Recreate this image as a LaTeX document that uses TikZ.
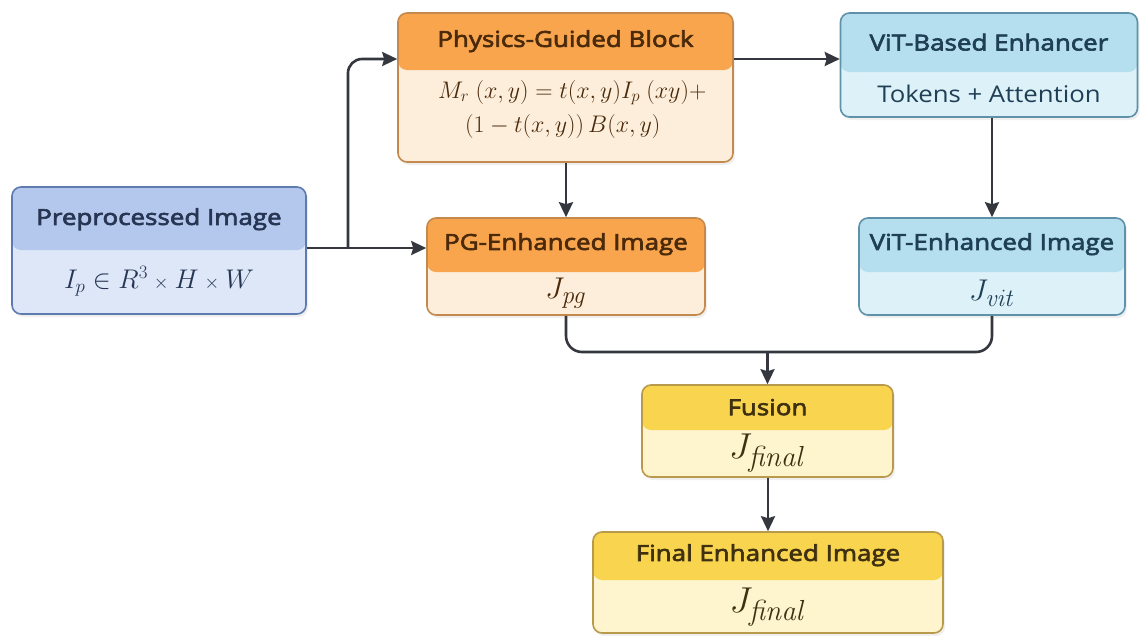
\RequirePackage{fix-cm}
\documentclass[tikz,border=0pt]{standalone}
\usepackage[no-math]{fontspec}
\setmainfont{Open Sans}
\newfontfamily\hdrfont{Open Sans}[FakeStretch=1.12]
\newfontfamily\hdrbfont{Open Sans}[FakeStretch=1.18,FakeBold=3]
\usetikzlibrary{arrows.meta,shadows}
\definecolor{bluehdr}{HTML}{B4C8EE}
\definecolor{bluebody}{HTML}{DDE7F8}
\definecolor{blueline}{HTML}{5E7BB0}
\definecolor{bluetxt}{HTML}{263552}
\definecolor{orghdr}{HTML}{F8A54E}
\definecolor{orgbody}{HTML}{FDEEDC}
\definecolor{orgline}{HTML}{C48A4D}
\definecolor{orgtxt}{HTML}{4A2A0A}
\definecolor{cyanhdr}{HTML}{B5DFEE}
\definecolor{cyanbody}{HTML}{DDF1F9}
\definecolor{cyanline}{HTML}{5F92A8}
\definecolor{cyantxt}{HTML}{1F3F55}
\definecolor{ylwhdr}{HTML}{F9D54F}
\definecolor{ylwbody}{HTML}{FEF5CF}
\definecolor{ylwline}{HTML}{B89A4A}
\definecolor{ylwtxt}{HTML}{3E3010}
\definecolor{arrowc}{HTML}{35373F}
\newcommand\jsub[2]{$J_{\mbox{\fontsize{#1}{#1}\selectfont$\mathit{#2}$}}$}
\tikzset{
  box/.style n args={4}{rectangle, rounded corners=9pt, draw=#1, line width=1.6pt,
    fill=#2, inner sep=0pt,
    drop shadow={opacity=0.12, shadow xshift=2pt, shadow yshift=-3pt},
    path picture={\fill[#3] (path picture bounding box.north west) rectangle ([yshift=-#4]path picture bounding box.north east);}},
  hdrtxt/.style={font=\hdrbfont\fontsize{22}{26}\selectfont, inner sep=0pt},
  bodytxt/.style={font=\hdrfont\fontsize{23}{27}\selectfont, inner sep=0pt},
  mathtxt/.style={font=\fontsize{30}{34}\selectfont, inner sep=0pt},
  bigmath/.style={font=\fontsize{36}{40}\selectfont, inner sep=0pt},
  arr/.style={draw=arrowc, line width=2.6pt, -{Stealth[length=15pt,width=14pt,inset=2pt]}},
  conn/.style={draw=arrowc, line width=2.6pt}
}
\begin{document}
\begin{tikzpicture}[x=1pt,y=-1pt]
\useasboundingbox[fill=white] (0,0) rectangle (1140,635);
% boxes
\node[box={blueline}{bluebody}{bluehdr}{63pt}, minimum width=294pt, minimum height=127pt] (pre) at (159,250.5) {};
\node[box={orgline}{orgbody}{orghdr}{57pt}, minimum width=335pt, minimum height=149pt] (phys) at (565.5,87.5) {};
\node[box={cyanline}{cyanbody}{cyanhdr}{59pt}, minimum width=297pt, minimum height=104pt] (vitb) at (989,65) {};
\node[box={orgline}{orgbody}{orghdr}{54pt}, minimum width=278pt, minimum height=97pt] (pg) at (566,266.5) {};
\node[box={cyanline}{cyanbody}{cyanhdr}{54pt}, minimum width=266pt, minimum height=97pt] (vite) at (992,266.5) {};
\node[box={ylwline}{ylwbody}{ylwhdr}{45pt}, minimum width=251pt, minimum height=92pt] (fus) at (767.5,431) {};
\node[box={ylwline}{ylwbody}{ylwhdr}{48pt}, minimum width=350pt, minimum height=101pt] (fin) at (768,582.5) {};
% texts
\node[hdrtxt, text=bluetxt] (pre-h) at ([yshift=-33pt]pre.north) {Preprocessed Image};
\node[font=\fontsize{27}{30}\selectfont, inner sep=0pt, text=bluetxt] (pre-b) at ([yshift=-95pt]pre.north) {$I_p \in R^{3}\mathbin{\scriptstyle\times} H \mathbin{\scriptstyle\times} W$};
\node[hdrtxt, text=orgtxt] (phys-h) at ([yshift=-29pt]phys.north) {Physics-Guided Block};
\node[font=\fontsize{24}{34}\selectfont, inner sep=0pt, text=orgtxt, align=left, anchor=north west] (phys-b) at (438,80)
  {$M_r\ (x,y) = t(x,y) I_p\ (xy) +$\\\hspace*{27pt}$(1-t(x,y))\,B(x,y)$};
\node[hdrtxt, text=cyantxt] (vitb-h) at ([yshift=-30pt]vitb.north) {ViT-Based Enhancer};
\node[bodytxt, text=cyantxt] (vitb-b) at ([yshift=-82pt]vitb.north) {Tokens + Attention};
\node[hdrtxt, text=orgtxt] (pg-h) at ([yshift=-27pt]pg.north) {PG-Enhanced Image};
\node[mathtxt, text=orgtxt] (pg-b) at ([yshift=-76pt]pg.north) {\jsub{25}{pg}};
\node[hdrtxt, text=cyantxt] (vite-h) at ([yshift=-27pt]vite.north) {ViT-Enhanced Image};
\node[mathtxt, text=cyantxt] (vite-b) at ([yshift=-76pt]vite.north) {\jsub{25}{vit}};
\node[hdrtxt, text=ylwtxt] (fus-h) at ([yshift=-23pt]fus.north) {Fusion};
\node[bigmath, text=ylwtxt] (fus-b) at ([yshift=-69pt]fus.north) {\jsub{29}{final}};
\node[hdrtxt, text=ylwtxt] (fin-h) at ([yshift=-24pt]fin.north) {Final Enhanced Image};
\node[bigmath, text=ylwtxt] (fin-b) at ([yshift=-76pt]fin.north) {\jsub{29}{final}};
% connectors
\coordinate (j1) at (348,248);
\coordinate (top) at (0,59);
\coordinate (m) at (0,352);
\draw[arr] (pre.east |- j1) -- (pg.west |- j1);
\draw[arr, rounded corners=14pt] (j1) |- (phys.west |- top);
\draw[arr] (phys.east |- top) -- (vitb.west |- top);
\draw[arr] (phys.south -| pg.north) -- (pg.north);
\draw[arr] (vitb.south -| vite.north) -- (vite.north);
\draw[conn, rounded corners=16pt] (pg.south) |- (vite.south |- m) -- (vite.south);
\draw[arr] (fus.north |- m) -- (fus.north);
\draw[arr] (fus.south -| fin.north) -- (fin.north);
\end{tikzpicture}
\end{document}
